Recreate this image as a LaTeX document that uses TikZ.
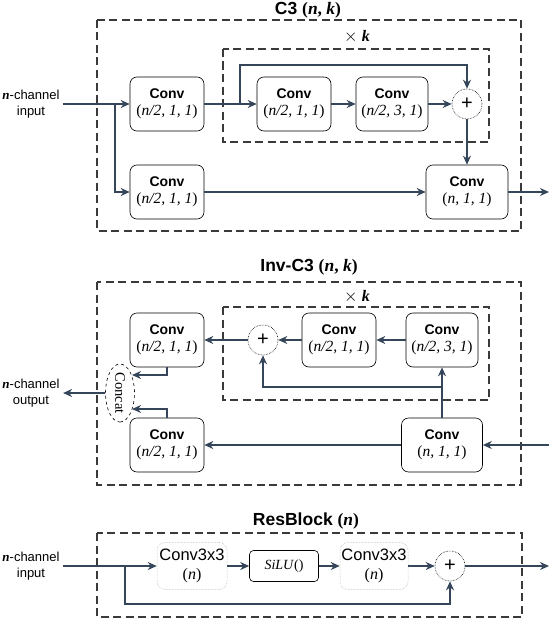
\documentclass[tikz,border=0pt]{standalone}
\usepackage{fontspec}
\setmainfont{Liberation Sans}
\newfontfamily\tnr{Liberation Serif}
\usetikzlibrary{arrows.meta, shapes.geometric}

\definecolor{flowcol}{HTML}{36465A}
\definecolor{framecol}{HTML}{3A3A3A}

% layer arguments like (n/2, 1, 1)
\newcommand{\convargs}[1]{{\tnr\mdseries\fontsize{15.5}{18}\selectfont(\textit{#1})}}
% channel label on the left
\newcommand{\chanlbl}[1]{{\tnr\bfseries\itshape n}-channel\\#1}

\begin{document}
\begin{tikzpicture}[x=1pt, y=-1pt, line join=miter, >={Stealth[length=9pt, width=8pt]},
    convbox/.style={draw, line width=0.6pt, rounded corners=7pt, minimum width=74pt, minimum height=54pt,
        align=center, inner sep=1pt, font=\fontsize{14}{17}\selectfont\bfseries},
    convlite/.style={draw=black!35, densely dotted, line width=0.5pt, rounded corners=8pt, minimum width=70pt,
        minimum height=47pt, align=center, inner sep=1pt, font=\fontsize{16.5}{19}\selectfont},
    addnode/.style={circle, draw, densely dotted, line width=0.6pt, minimum size=30pt, inner sep=0pt,
        font=\fontsize{20}{20}\selectfont},
    groupbox/.style={draw=framecol, line width=1.6pt, dash pattern=on 8pt off 4.5pt},
    flow/.style={->, draw=flowcol, line width=1.8pt},
    chan/.style={align=center, font=\fontsize{13}{16}\selectfont},
    title/.style={inner sep=0pt, font=\fontsize{17.5}{20}\selectfont\bfseries},
    times/.style={font=\fontsize{16}{18}\selectfont}]

    \useasboundingbox (0,0) rectangle (550,618);

    % ---------------- C3 ----------------
    \node[title] (ttlA) at (308,10) {C3 {\tnr(\textit{n}, \textit{k})}};
    \draw[groupbox] (97,20) rectangle (521,231);
    \draw[groupbox] (223,49) rectangle (489,142);
    \node[times] (repA) at (357,37) {$\times$ {\tnr\bfseries\itshape k}};

    \node[chan] (inA) at (31,104) {\chanlbl{input}};
    \node[convbox] (cvA) at (167,104) {Conv\\\convargs{n/2, 1, 1}};
    \node[convbox] (cvB) at (167,192) {Conv\\\convargs{n/2, 1, 1}};
    \node[convbox] (cvC) at (294,104) {Conv\\\convargs{n/2, 1, 1}};
    \node[convbox, minimum width=72pt] (cvD) at (392,104) {Conv\\\convargs{n/2, 3, 1}};
    \node[addnode] (sumA) at (467,104) {+};
    \node[convbox, minimum width=82pt] (cvE) at (467,192) {Conv\\\convargs{n, 1, 1}};

    \coordinate (splitA) at (115,104);
    \coordinate (skipA) at (240,104);
    \coordinate (topA) at (240,65);
    \coordinate (outA) at (549,192);

    \draw[flow] (inA) -- (cvA);
    \draw[flow] (splitA) |- (cvB);
    \draw[flow] (cvA) -- (cvC);
    \draw[flow] (skipA) -- (topA) -| (sumA);
    \draw[flow] (cvC) -- (cvD);
    \draw[flow] (cvD) -- (sumA);
    \draw[flow] (sumA) -- (cvE);
    \draw[flow] (cvB) -- (cvE);
    \draw[flow] (cvE) -- (outA);

    % ---------------- Inv-C3 ----------------
    \node[title] (ttlB) at (309,267) {Inv-C3 {\tnr(\textit{n}, \textit{k})}};
    \draw[groupbox] (97,282) rectangle (521,485);
    \draw[groupbox] (223,307) rectangle (489,400);
    \node[times] (repB) at (357,297) {$\times$ {\tnr\bfseries\itshape k}};

    \node[chan] (outB) at (31,393) {\chanlbl{output}};
    \node[convbox] (cvF) at (167,340) {Conv\\\convargs{n/2, 1, 1}};
    \node[addnode] (sumB) at (263,340) {+};
    \node[convbox] (cvG) at (339,340) {Conv\\\convargs{n/2, 1, 1}};
    \node[convbox, minimum width=72pt] (cvH) at (442,340) {Conv\\\convargs{n/2, 3, 1}};
    \node[convbox, minimum width=81pt] (cvI) at (442,445) {Conv\\\convargs{n, 1, 1}};
    \node[convbox] (cvJ) at (167,445) {Conv\\\convargs{n/2, 1, 1}};
    \node[ellipse, draw, dashed, line width=0.6pt, rotate=-90, minimum width=58pt, minimum height=29pt,
        inner sep=0pt, font=\tnr\fontsize{14.5}{14}\selectfont] (cat) at (120,393) {Concat};

    \coordinate (inB) at (549,445);
    \coordinate (splitB) at (442,387);
    \coordinate (catA) at (132,375);
    \coordinate (catB) at (132,409);

    \draw[flow] (inB) -- (cvI);
    \draw[flow] (cvI) -- (cvH);
    \draw[flow] (splitB) -| (sumB);
    \draw[flow] (cvH) -- (cvG);
    \draw[flow] (cvG) -- (sumB);
    \draw[flow] (sumB) -- (cvF);
    \draw[flow] (cvI) -- (cvJ);
    \draw[flow] (cvF.south) |- (catA);
    \draw[flow] (cvJ.north) |- (catB);
    \draw[flow] (cat) -- (outB);

    % ---------------- ResBlock ----------------
    \node[title] (ttlC) at (306,521) {ResBlock {\tnr(\textit{n})}};
    \draw[groupbox] (97,533) rectangle (522,617);

    \node[chan] (inC) at (31,566) {\chanlbl{input}};
    \node[convlite] (rcA) at (192,566) {Conv3x3\\{\tnr\fontsize{16}{19}\selectfont(\textit{n})}};
    \node[draw, line width=0.6pt, rounded corners=4pt, minimum width=69pt, minimum height=31pt,
        font=\tnr\fontsize{14}{16}\selectfont] (silu) at (284,566) {\textit{SiLU}()};
    \node[convlite, minimum width=68pt] (rcB) at (374,566) {Conv3x3\\{\tnr\fontsize{16}{19}\selectfont(\textit{n})}};
    \node[addnode] (sumC) at (450,566) {+};

    \coordinate (splitC) at (125,566);
    \coordinate (botC) at (125,604);
    \coordinate (outC) at (549,566);

    \draw[flow] (inC) -- (rcA);
    \draw[flow] (splitC) -- (botC) -| (sumC);
    \draw[flow] (rcA) -- (silu);
    \draw[flow] (silu) -- (rcB);
    \draw[flow] (rcB) -- (sumC);
    \draw[flow] (sumC) -- (outC);

\end{tikzpicture}
\end{document}
